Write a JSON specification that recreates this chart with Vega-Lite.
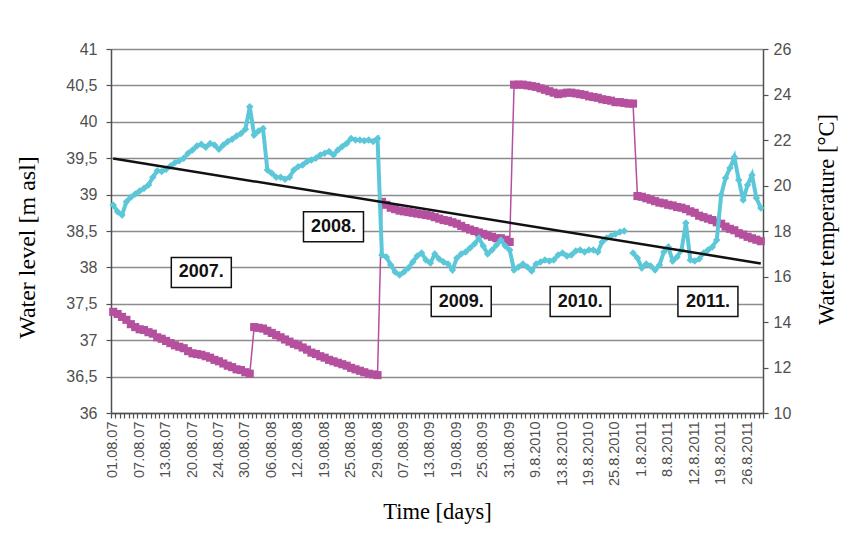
{
  "$schema": "https://vega.github.io/schema/vega-lite/v6.json",
  "width": 652,
  "height": 364,
  "autosize": {"type": "none"},
  "padding": {"left": 111, "top": 49, "right": 94, "bottom": 127},
  "background": "white",
  "config": {
    "locale": {"number": {"decimal": ",", "thousands": ".", "grouping": [3], "currency": ["", " €"]}},
    "view": {"stroke": null},
    "axis": {
      "labelFont": "Liberation Sans",
      "labelColor": "#505050",
      "titleFont": "Liberation Serif",
      "titleFontWeight": "normal",
      "titleColor": "#000000",
      "domainColor": "#505050",
      "tickColor": "#505050",
      "domainWidth": 1.5,
      "tickWidth": 1.2
    }
  },
  "datasets": {
    "series": [
      {"n":0,"date":"01.08.07","level":37.39,"temp":19.14},{"n":1,"date":"02.08.07","level":37.36,"temp":18.85},{"n":2,"date":"03.08.07","level":37.32,"temp":18.70},{"n":3,"date":"04.08.07","level":37.28,"temp":19.29},
      {"n":4,"date":"05.08.07","level":37.22,"temp":19.48},{"n":5,"date":"06.08.07","level":37.18,"temp":19.63},{"n":6,"date":"07.08.07","level":37.15,"temp":19.76},{"n":7,"date":"08.08.07","level":37.14,"temp":19.88},
      {"n":8,"date":"09.08.07","level":37.11,"temp":20.02},{"n":9,"date":"10.08.07","level":37.09,"temp":20.36},{"n":10,"date":"11.08.07","level":37.04,"temp":20.65},{"n":11,"date":"12.08.07","level":37.02,"temp":20.61},
      {"n":12,"date":"13.08.07","level":36.99,"temp":20.71},{"n":13,"date":"14.08.07","level":36.96,"temp":20.86},{"n":14,"date":"15.08.07","level":36.93,"temp":21.00},{"n":15,"date":"16.08.07","level":36.91,"temp":21.09},
      {"n":16,"date":"17.08.07","level":36.89,"temp":21.20},{"n":17,"date":"18.08.07","level":36.85,"temp":21.42},{"n":18,"date":"20.08.07","level":36.82,"temp":21.56},{"n":19,"date":"21.08.07","level":36.81,"temp":21.74},
      {"n":20,"date":"21.08.07 (2)","level":36.80,"temp":21.81},{"n":21,"date":"22.08.07","level":36.78,"temp":21.68},{"n":22,"date":"22.08.07 (2)","level":36.76,"temp":21.85},{"n":23,"date":"23.08.07","level":36.73,"temp":21.78},
      {"n":24,"date":"24.08.07","level":36.71,"temp":21.59},{"n":25,"date":"25.08.07","level":36.68,"temp":21.78},{"n":26,"date":"26.08.07","level":36.65,"temp":21.93},{"n":27,"date":"27.08.07","level":36.63,"temp":22.03},
      {"n":28,"date":"28.08.07","level":36.60,"temp":22.18},{"n":29,"date":"29.08.07","level":36.59,"temp":22.29},{"n":30,"date":"30.08.07","level":36.56,"temp":22.47},{"n":31,"date":"31.08.07","level":36.54,"temp":23.46},
      {"n":32,"date":"01.08.08","level":37.18,"temp":22.22},{"n":33,"date":"02.08.08","level":37.17,"temp":22.40},{"n":34,"date":"04.08.08","level":37.16,"temp":22.51},{"n":35,"date":"05.08.08","level":37.13,"temp":20.68},
      {"n":36,"date":"06.08.08","level":37.10,"temp":20.54},{"n":37,"date":"07.08.08","level":37.07,"temp":20.36},{"n":38,"date":"08.08.08","level":37.04,"temp":20.36},{"n":39,"date":"09.08.08","level":37.01,"temp":20.27},
      {"n":40,"date":"10.08.08","level":36.98,"temp":20.36},{"n":41,"date":"11.08.08","level":36.95,"temp":20.68},{"n":42,"date":"12.08.08","level":36.93,"temp":20.83},{"n":43,"date":"13.08.08","level":36.90,"temp":20.90},
      {"n":44,"date":"14.08.08","level":36.87,"temp":21.05},{"n":45,"date":"15.08.08","level":36.83,"temp":21.12},{"n":46,"date":"16.08.08","level":36.81,"temp":21.20},{"n":47,"date":"18.08.08","level":36.78,"temp":21.34},
      {"n":48,"date":"19.08.08","level":36.76,"temp":21.42},{"n":49,"date":"20.08.08","level":36.73,"temp":21.49},{"n":50,"date":"21.08.08","level":36.71,"temp":21.34},{"n":51,"date":"22.08.08","level":36.69,"temp":21.56},
      {"n":52,"date":"23.08.08","level":36.67,"temp":21.71},{"n":53,"date":"24.08.08","level":36.65,"temp":21.85},{"n":54,"date":"25.08.08","level":36.62,"temp":22.07},{"n":55,"date":"26.08.08","level":36.60,"temp":22.00},
      {"n":56,"date":"26.08.08 (2)","level":36.58,"temp":22.00},{"n":57,"date":"27.08.08","level":36.56,"temp":21.97},{"n":58,"date":"27.08.08 (2)","level":36.54,"temp":22.00},{"n":59,"date":"28.08.08","level":36.53,"temp":21.93},
      {"n":60,"date":"29.08.08","level":36.52,"temp":22.07},{"n":61,"date":"02.08.09","level":38.90,"temp":16.95},{"n":62,"date":"03.08.09","level":38.86,"temp":16.86},{"n":63,"date":"04.08.09","level":38.82,"temp":16.51},
      {"n":64,"date":"05.08.09","level":38.80,"temp":16.20},{"n":65,"date":"06.08.09","level":38.78,"temp":16.07},{"n":66,"date":"07.08.09","level":38.77,"temp":16.20},{"n":67,"date":"08.08.09","level":38.76,"temp":16.37},
      {"n":68,"date":"09.08.09","level":38.75,"temp":16.64},{"n":69,"date":"10.08.09","level":38.74,"temp":16.90},{"n":70,"date":"11.08.09","level":38.73,"temp":17.03},{"n":71,"date":"12.08.09","level":38.72,"temp":16.73},
      {"n":72,"date":"13.08.09","level":38.71,"temp":16.59},{"n":73,"date":"14.08.09","level":38.69,"temp":16.99},{"n":74,"date":"15.08.09","level":38.67,"temp":16.77},{"n":75,"date":"16.08.09","level":38.65,"temp":16.64},
      {"n":76,"date":"17.08.09","level":38.64,"temp":16.55},{"n":77,"date":"18.08.09","level":38.62,"temp":16.29},{"n":78,"date":"19.08.09","level":38.60,"temp":16.81},{"n":79,"date":"20.08.09","level":38.57,"temp":16.99},
      {"n":80,"date":"21.08.09","level":38.54,"temp":17.08},{"n":81,"date":"22.08.09","level":38.52,"temp":17.25},{"n":82,"date":"23.08.09","level":38.50,"temp":17.43},{"n":83,"date":"24.08.09","level":38.48,"temp":17.69},
      {"n":84,"date":"25.08.09","level":38.46,"temp":17.34},{"n":85,"date":"26.08.09","level":38.44,"temp":16.99},{"n":86,"date":"27.08.09","level":38.42,"temp":17.16},{"n":87,"date":"28.08.09","level":38.40,"temp":17.38},
      {"n":88,"date":"29.08.09","level":38.40,"temp":17.60},{"n":89,"date":"30.08.09","level":38.38,"temp":17.34},{"n":90,"date":"31.08.09","level":38.35,"temp":17.16},{"n":91,"date":"4.8.2010","level":40.51,"temp":16.29},
      {"n":92,"date":"5.8.2010","level":40.51,"temp":16.42},{"n":93,"date":"6.8.2010","level":40.51,"temp":16.55},{"n":94,"date":"7.8.2010","level":40.50,"temp":16.42},{"n":95,"date":"8.8.2010","level":40.49,"temp":16.24},
      {"n":96,"date":"9.8.2010","level":40.48,"temp":16.55},{"n":97,"date":"10.8.2010","level":40.46,"temp":16.64},{"n":98,"date":"10.8.2010 (2)","level":40.44,"temp":16.73},{"n":99,"date":"11.8.2010","level":40.42,"temp":16.68},
      {"n":100,"date":"11.8.2010 (2)","level":40.40,"temp":16.73},{"n":101,"date":"12.8.2010","level":40.38,"temp":16.95},{"n":102,"date":"13.8.2010","level":40.39,"temp":17.03},{"n":103,"date":"14.8.2010","level":40.40,"temp":16.90},
      {"n":104,"date":"15.8.2010","level":40.40,"temp":16.95},{"n":105,"date":"16.8.2010","level":40.39,"temp":17.12},{"n":106,"date":"17.8.2010","level":40.38,"temp":17.16},{"n":107,"date":"18.8.2010","level":40.37,"temp":17.08},
      {"n":108,"date":"19.8.2010","level":40.35,"temp":17.16},{"n":109,"date":"20.8.2010","level":40.34,"temp":17.16},{"n":110,"date":"21.8.2010","level":40.33,"temp":17.08},{"n":111,"date":"22.8.2010","level":40.31,"temp":17.52},
      {"n":112,"date":"23.8.2010","level":40.30,"temp":17.69},{"n":113,"date":"24.8.2010","level":40.29,"temp":17.78},{"n":114,"date":"25.8.2010","level":40.27,"temp":17.87},{"n":115,"date":"26.8.2010","level":40.27,"temp":17.96},
      {"n":116,"date":"27.8.2010","level":40.26,"temp":18.00},{"n":117,"date":"28.8.2010","level":40.25,"temp":null},{"n":118,"date":"29.8.2010","level":40.25,"temp":17.03},{"n":119,"date":"31.7.2011","level":38.98,"temp":16.81},
      {"n":120,"date":"1.8.2011","level":38.97,"temp":16.37},{"n":121,"date":"2.8.2011","level":38.95,"temp":16.55},{"n":122,"date":"3.8.2011","level":38.93,"temp":16.46},{"n":123,"date":"4.8.2011","level":38.91,"temp":16.29},
      {"n":124,"date":"5.8.2011","level":38.89,"temp":16.51},{"n":125,"date":"7.8.2011","level":38.88,"temp":17.08},{"n":126,"date":"8.8.2011","level":38.86,"temp":17.30},{"n":127,"date":"9.8.2011","level":38.85,"temp":16.68},
      {"n":128,"date":"9.8.2011 (2)","level":38.83,"temp":16.86},{"n":129,"date":"10.8.2011","level":38.82,"temp":17.16},{"n":130,"date":"10.8.2011 (2)","level":38.80,"temp":18.35},{"n":131,"date":"11.8.2011","level":38.77,"temp":16.73},
      {"n":132,"date":"12.8.2011","level":38.75,"temp":16.68},{"n":133,"date":"13.8.2011","level":38.71,"temp":16.77},{"n":134,"date":"14.8.2011","level":38.69,"temp":17.03},{"n":135,"date":"15.8.2011","level":38.67,"temp":17.16},
      {"n":136,"date":"16.8.2011","level":38.65,"temp":17.30},{"n":137,"date":"18.8.2011","level":38.62,"temp":17.60},{"n":138,"date":"19.8.2011","level":38.60,"temp":19.58},{"n":139,"date":"20.8.2011","level":38.56,"temp":20.33},
      {"n":140,"date":"21.8.2011","level":38.53,"temp":20.77},{"n":141,"date":"22.8.2011","level":38.51,"temp":21.25},{"n":142,"date":"23.8.2011","level":38.47,"temp":20.24},{"n":143,"date":"25.8.2011","level":38.45,"temp":19.36},
      {"n":144,"date":"26.8.2011","level":38.42,"temp":20.02},{"n":145,"date":"27.8.2011","level":38.40,"temp":20.46},{"n":146,"date":"28.8.2011","level":38.38,"temp":19.45},{"n":147,"date":"29.8.2011","level":38.36,"temp":19.01}
    ],
    "trend": [
      {"n": 0, "date": "01.08.07", "trend": 39.495},
      {"n": 147, "date": "29.8.2011", "trend": 38.055}
    ],
    "years": [
      {"n": 20, "date": "21.08.07 (2)", "level": 37.93, "label": "2007."},
      {"n": 50, "date": "21.08.08", "level": 38.56, "label": "2008."},
      {"n": 79, "date": "20.08.09", "level": 37.53, "label": "2009."},
      {"n": 106, "date": "17.8.2010", "level": 37.53, "label": "2010."},
      {"n": 135, "date": "15.8.2011", "level": 37.53, "label": "2011."}
    ]
  },
  "layer": [
    {
      "data": {"name": "series"},
      "encoding": {
        "x": {
          "field": "date",
          "type": "ordinal",
          "sort": {"field": "n", "op": "min"},
          "scale": {"paddingInner": 0, "paddingOuter": 0},
          "axis": {
            "orient": "bottom",
            "title": "Time [days]",
            "titleFontSize": 22.5,
            "titlePadding": 15,
            "values": ["01.08.07","07.08.07","13.08.07","20.08.07","24.08.07","30.08.07","06.08.08","12.08.08","19.08.08","25.08.08","29.08.08","07.08.09","13.08.09","19.08.09","25.08.09","31.08.09","9.8.2010","13.8.2010","19.8.2010","25.8.2010","1.8.2011","8.8.2011","12.8.2011","19.8.2011","26.8.2011"],
            "labelAngle": 270,
            "labelFontSize": 14.5,
            "labelPadding": 8,
            "labelOverlap": false,
            "ticks": false,
            "domain": true
          }
        },
        "y": {
          "field": "level",
          "type": "quantitative",
          "scale": {"domain": [36, 41], "nice": false, "zero": false},
          "axis": {
            "orient": "left",
            "title": "Water level [m asl]",
            "titleFontSize": 24,
            "titlePadding": 26.5,
            "titleY": 198,
            "values": [36, 36.5, 37, 37.5, 38, 38.5, 39, 39.5, 40, 40.5, 41],
            "format": ".1~f",
            "labelFontSize": 16,
            "labelPadding": 9,
            "tickSize": 5,
            "grid": true,
            "gridColor": "#8c8c8c",
            "gridWidth": 1.5
          }
        }
      },
      "layer": [
        {"mark": {"type": "line", "color": "#b5509e", "strokeWidth": 1.5}},
        {"mark": {"type": "point", "shape": "square", "filled": true, "size": 66, "color": "#b5509e", "opacity": 1}}
      ]
    },
    {
      "data": {"name": "series"},
      "encoding": {
        "x": {
          "field": "date",
          "type": "ordinal",
          "sort": {"field": "n", "op": "min"},
          "scale": {"paddingInner": 0, "paddingOuter": 0},
          "axis": {
            "orient": "bottom",
            "title": null,
            "labels": false,
            "domain": false,
            "ticks": true,
            "tickBand": "extent",
            "tickSize": 5
          }
        },
        "y": {
          "field": "temp",
          "type": "quantitative",
          "scale": {"domain": [10, 26], "nice": false, "zero": false},
          "axis": {
            "orient": "right",
            "title": "Water temperature [°C]",
            "titleFontSize": 22.5,
            "titleAngle": 270,
            "titleBaseline": "top",
            "titlePadding": 25,
            "titleY": 170,
            "values": [10, 12, 14, 16, 18, 20, 22, 24, 26],
            "labelFontSize": 16,
            "labelPadding": 5,
            "tickSize": 5,
            "grid": false
          }
        }
      },
      "layer": [
        {"mark": {"type": "line", "color": "#5cc7d9", "strokeWidth": 4}},
        {"mark": {"type": "point", "shape": "diamond", "filled": true, "size": 56, "color": "#5cc7d9", "opacity": 1}}
      ]
    },
    {
      "encoding": {
        "x": {
          "field": "date",
          "type": "ordinal",
          "sort": {"field": "n", "op": "min"},
          "scale": {"paddingInner": 0, "paddingOuter": 0},
          "axis": null
        }
      },
      "layer": [
        {
          "data": {"name": "trend"},
          "mark": {"type": "line", "color": "#111111", "strokeWidth": 2.5},
          "encoding": {
            "y": {"field": "trend", "type": "quantitative", "scale": {"domain": [36, 41], "nice": false, "zero": false}, "axis": null}
          }
        },
        {
          "data": {"name": "years"},
          "mark": {"type": "point", "shape": "M-1,-0.5H1V0.5H-1Z", "size": 3600, "filled": true, "fill": "white", "stroke": "#111111", "strokeWidth": 1.5, "opacity": 1},
          "encoding": {
            "y": {"field": "level", "type": "quantitative", "scale": {"domain": [36, 41], "nice": false, "zero": false}, "axis": null}
          }
        },
        {
          "data": {"name": "years"},
          "mark": {"type": "text", "font": "Liberation Sans", "fontWeight": "bold", "fontSize": 18, "color": "#111111", "align": "center", "baseline": "middle"},
          "encoding": {
            "y": {"field": "level", "type": "quantitative", "scale": {"domain": [36, 41], "nice": false, "zero": false}, "axis": null},
            "text": {"field": "label"}
          }
        }
      ]
    }
  ],
  "resolve": {"scale": {"y": "independent"}, "axis": {"x": "independent"}}
}
